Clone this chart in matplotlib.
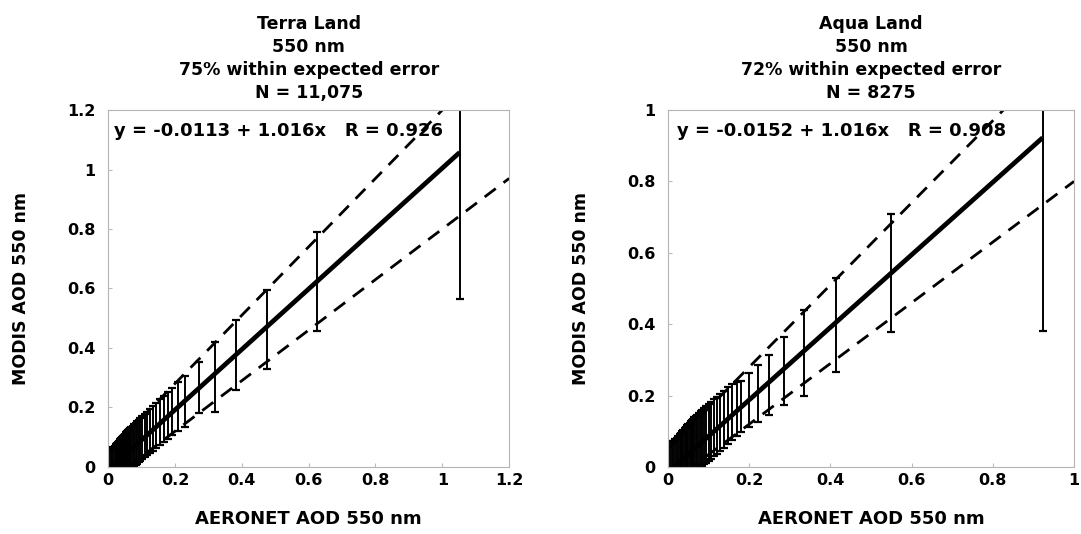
import matplotlib.pyplot as plt
import numpy as np

plt.rcParams['font.family'] = ['DejaVu Sans']
plt.rcParams['font.weight'] = 'bold'
plt.rcParams['axes.titleweight'] = 'bold'
plt.rcParams['axes.labelweight'] = 'bold'

# ---------------------------------------------------------------
# binned data: AERONET bin centre, MODIS mean, std
terra_x = [0.003, 0.008, 0.012, 0.016, 0.020, 0.024, 0.028, 0.031, 0.034, 0.037,
           0.040, 0.043, 0.046, 0.049, 0.052, 0.055, 0.058, 0.061, 0.064, 0.067,
           0.070, 0.074, 0.078, 0.082, 0.086, 0.091, 0.096, 0.102, 0.109, 0.116,
           0.124, 0.133, 0.143, 0.154, 0.166, 0.178, 0.192, 0.208, 0.230, 0.273,
           0.320, 0.382, 0.475, 0.625, 1.052]
terra_mean = [0.012, 0.013, 0.015, 0.017, 0.020, 0.023, 0.026, 0.029, 0.031, 0.034,
              0.037, 0.040, 0.043, 0.045, 0.048, 0.051, 0.054, 0.057, 0.060, 0.063,
              0.066, 0.070, 0.074, 0.078, 0.082, 0.087, 0.092, 0.098, 0.105, 0.112,
              0.120, 0.129, 0.139, 0.150, 0.162, 0.173, 0.186, 0.202, 0.221, 0.267,
              0.303, 0.377, 0.462, 0.624, 1.060]
terra_sd = [0.045, 0.046, 0.047, 0.049, 0.051, 0.053, 0.055, 0.056, 0.058, 0.059,
            0.060, 0.061, 0.062, 0.063, 0.064, 0.065, 0.066, 0.066, 0.067, 0.068,
            0.068, 0.069, 0.070, 0.070, 0.071, 0.071, 0.072, 0.072, 0.073, 0.073,
            0.074, 0.075, 0.076, 0.077, 0.078, 0.079, 0.080, 0.082, 0.086, 0.087,
            0.117, 0.118, 0.133, 0.166, 0.495]

aqua_x = [0.004, 0.009, 0.013, 0.017, 0.021, 0.025, 0.029, 0.032, 0.035, 0.038,
          0.041, 0.044, 0.047, 0.050, 0.053, 0.056, 0.059, 0.062, 0.065, 0.068,
          0.072, 0.076, 0.080, 0.084, 0.089, 0.094, 0.100, 0.106, 0.113, 0.120,
          0.128, 0.137, 0.147, 0.158, 0.169, 0.180, 0.199, 0.222, 0.248, 0.285,
          0.335, 0.414, 0.549, 0.923]
aqua_mean = [0.015, 0.016, 0.017, 0.019, 0.021, 0.024, 0.027, 0.030, 0.033, 0.036,
             0.039, 0.042, 0.045, 0.048, 0.051, 0.054, 0.057, 0.060, 0.063, 0.066,
             0.070, 0.074, 0.078, 0.082, 0.087, 0.092, 0.097, 0.103, 0.110, 0.117,
             0.125, 0.134, 0.143, 0.154, 0.163, 0.170, 0.187, 0.205, 0.230, 0.270,
             0.320, 0.398, 0.543, 0.920]
aqua_sd = [0.055, 0.056, 0.057, 0.059, 0.061, 0.063, 0.065, 0.066, 0.068, 0.069,
           0.070, 0.071, 0.072, 0.073, 0.073, 0.074, 0.075, 0.075, 0.076, 0.077,
           0.077, 0.078, 0.078, 0.079, 0.079, 0.080, 0.080, 0.080, 0.080, 0.080,
           0.080, 0.080, 0.080, 0.079, 0.076, 0.072, 0.075, 0.080, 0.084, 0.095,
           0.120, 0.131, 0.165, 0.540]

# regression (intercept, slope, R) as printed in each panel
terra_fit = (-0.0113, 1.016, 0.926)
aqua_fit = (-0.0152, 1.016, 0.908)

# expected error envelope: +/-(0.05 + 0.15 tau)
ee_abs, ee_rel = 0.05, 0.15

titles = ['Terra Land\n550 nm\n75% within expected error\nN = 11,075',
          'Aqua Land\n550 nm\n72% within expected error\nN = 8275']
limits = [1.2, 1.0]
tick_vals = [[0, 0.2, 0.4, 0.6, 0.8, 1.0, 1.2], [0, 0.2, 0.4, 0.6, 0.8, 1.0]]
tick_labels = [['0', '0.2', '0.4', '0.6', '0.8', '1', '1.2'],
               ['0', '0.2', '0.4', '0.6', '0.8', '1']]
# ---------------------------------------------------------------

fig = plt.figure(figsize=(10.81, 5.34), dpi=100)
ax_boxes = [[0.100, 0.1255, 0.371, 0.6685], [0.618, 0.1255, 0.3755, 0.6685]]

panels = [(terra_x, terra_mean, terra_sd, terra_fit),
          (aqua_x, aqua_mean, aqua_sd, aqua_fit)]

for k, (bx, bm, bs, fit) in enumerate(panels):
    ax = fig.add_axes(ax_boxes[k])
    lim = limits[k]

    # expected error lines
    xe = np.array([0, lim])
    ax.plot(xe, xe + (ee_abs + ee_rel * xe), color='black', lw=2.0,
            linestyle=(0, (5, 3.5)))
    ax.plot(xe, xe - (ee_abs + ee_rel * xe), color='black', lw=2.0,
            linestyle=(0, (5, 3.5)))

    # binned means with 1-sigma bars
    ax.errorbar(bx, bm, yerr=bs, fmt='none', ecolor='black', elinewidth=1.4,
                capsize=3, capthick=1.6)

    # regression line over the binned range
    a, b, r = fit
    xr = np.array([bx[0], bx[-1]])
    ax.plot(xr, a + b * xr, color='black', lw=3.4, solid_capstyle='butt')

    sign = '-' if a < 0 else '+'
    ax.text(0.015 if k == 0 else 0.022, 0.94,
            f'y = {sign}{abs(a):.4f} + {b:.3f}x   R = {r:.3f}',
            transform=ax.transAxes, fontsize=13, va='center', ha='left')

    ax.set_xlim(0, lim)
    ax.set_ylim(0, lim)
    ax.set_xticks(tick_vals[k])
    ax.set_xticklabels(tick_labels[k])
    ax.set_yticks(tick_vals[k])
    ax.set_yticklabels(tick_labels[k])
    ax.tick_params(axis='both', length=3, direction='in', color='#bbbbbb',
                   labelsize=11.5)
    ax.tick_params(axis='y', pad=9)
    ax.tick_params(axis='x', pad=4)
    for sp in ax.spines.values():
        sp.set_color('#b5b5b5')
        sp.set_linewidth(0.8)
        sp.set_linestyle((0, (2, 1)))

    ax.set_title(titles[k], fontsize=12.5, linespacing=1.35, pad=9)
    ax.set_xlabel('AERONET AOD 550 nm', fontsize=13, labelpad=16)
    ax.set_ylabel('MODIS AOD 550 nm', fontsize=12.5, labelpad=27)

fig.savefig('out.png', dpi=100)
